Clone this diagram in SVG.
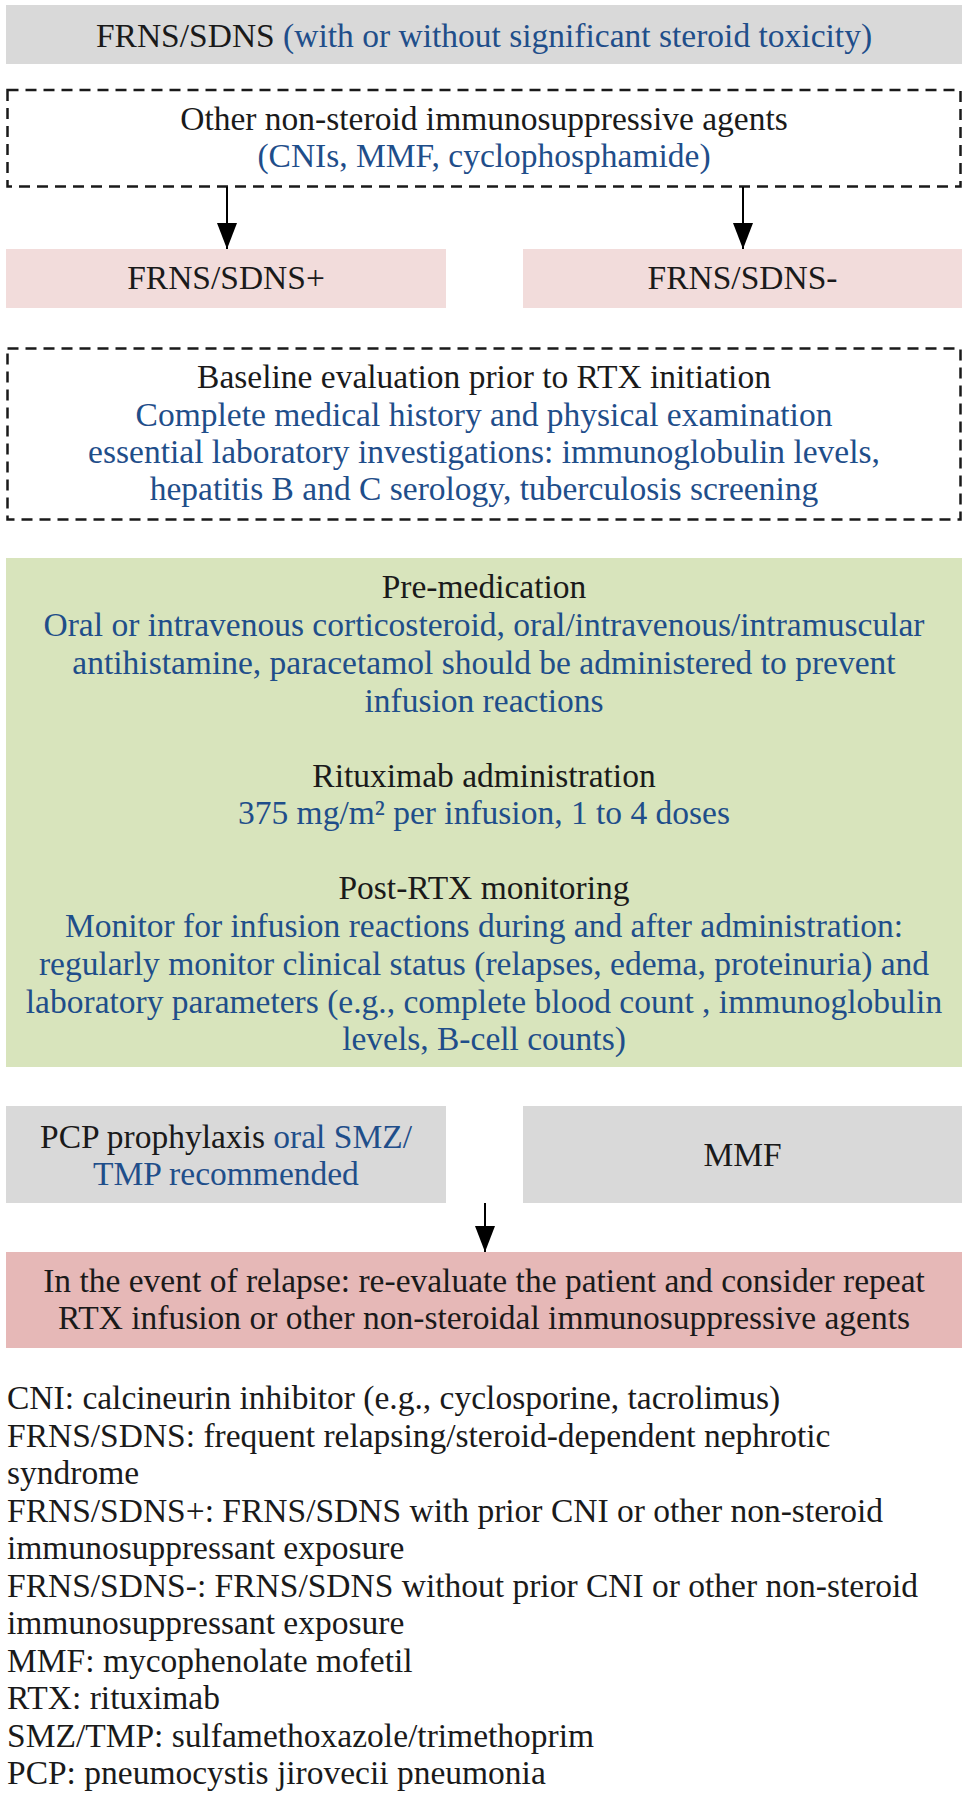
<svg xmlns="http://www.w3.org/2000/svg" width="968" height="1800" viewBox="0 0 968 1800">
<style>
text{font-family:"Liberation Serif","Times New Roman",serif;font-size:33.5px;fill:#1a1a1a}
.c{text-anchor:middle}
.b{fill:#1f4e8a}
.dash{fill:none;stroke:#1a1a1a;stroke-width:2.5;stroke-dasharray:11 7}
.gray{fill:#d9d9d9}
.pink{fill:#f2dcdb}
.green{fill:#d8e4bc}
.red{fill:#e6b8b7}
.conn{stroke:#000;stroke-width:2;fill:none;marker-end:url(#ah)}
</style>
<defs>
<marker id="ah" markerUnits="userSpaceOnUse" markerWidth="26" markerHeight="20" refX="26" refY="10" orient="auto">
<path d="M0,0 L26,10 L0,20 Z" fill="#000"/>
</marker>
</defs>
<rect width="968" height="1800" fill="#fff"/>

<g id="n_top">
<rect class="gray" x="6" y="5" width="956" height="59"/>
<text class="c" x="484" y="47">FRNS/SDNS <tspan class="b">(with or without significant steroid toxicity)</tspan></text>
</g>

<g id="n_other">
<rect class="dash" x="7.5" y="90" width="953" height="96.5"/>
<text class="c" x="484" y="130">Other non-steroid immunosuppressive agents</text>
<text class="c b" x="484" y="167">(CNIs, MMF, cyclophosphamide)</text>
</g>

<g id="n_plus">
<rect class="pink" x="6" y="249" width="440" height="59"/>
<text class="c" x="226" y="289">FRNS/SDNS+</text>
</g>

<g id="n_minus">
<rect class="pink" x="523" y="249" width="439" height="59"/>
<text class="c" x="742.5" y="289">FRNS/SDNS-</text>
</g>

<g id="n_baseline">
<rect class="dash" x="7.5" y="348.5" width="953" height="171"/>
<text class="c" x="484" y="388">Baseline evaluation prior to RTX initiation</text>
<text class="c b" x="484" y="426">Complete medical history and physical examination</text>
<text class="c b" x="484" y="463">essential laboratory investigations: immunoglobulin levels,</text>
<text class="c b" x="484" y="500">hepatitis B and C serology, tuberculosis screening</text>
</g>

<g id="n_treatment">
<rect class="green" x="6" y="558" width="956" height="509"/>
<text class="c" x="484" y="598">Pre-medication</text>
<text class="c b" x="484" y="636">Oral or intravenous corticosteroid, oral/intravenous/intramuscular</text>
<text class="c b" x="484" y="674">antihistamine, paracetamol should be administered to prevent</text>
<text class="c b" x="484" y="712">infusion reactions</text>
<text class="c" x="484" y="787">Rituximab administration</text>
<text class="c b" x="484" y="824">375 mg/m² per infusion, 1 to 4 doses</text>
<text class="c" x="484" y="899">Post-RTX monitoring</text>
<text class="c b" x="484" y="937">Monitor for infusion reactions during and after administration:</text>
<text class="c b" x="484" y="975">regularly monitor clinical status (relapses, edema, proteinuria) and</text>
<text class="c b" x="484" y="1013">laboratory parameters (e.g., complete blood count , immunoglobulin</text>
<text class="c b" x="484" y="1050">levels, B-cell counts)</text>
</g>

<g id="n_pcp">
<rect class="gray" x="6" y="1106" width="440" height="97"/>
<text class="c" x="226" y="1148">PCP prophylaxis <tspan class="b">oral SMZ/</tspan></text>
<text class="c b" x="226" y="1185">TMP recommended</text>
</g>

<g id="n_mmf">
<rect class="gray" x="523" y="1106" width="439" height="97"/>
<text class="c" x="742.5" y="1166">MMF</text>
</g>

<g id="n_relapse">
<rect class="red" x="6" y="1252" width="956" height="96"/>
<text class="c" x="484" y="1292">In the event of relapse: re-evaluate the patient and consider repeat</text>
<text class="c" x="484" y="1329">RTX infusion or other non-steroidal immunosuppressive agents</text>
</g>

<g id="connectors">
<line class="conn" x1="227" y1="187" x2="227" y2="249"/>
<line class="conn" x1="743" y1="187" x2="743" y2="249"/>
<line class="conn" x1="485" y1="1203" x2="485" y2="1252"/>
</g>

<g id="legend">
<text x="7" y="1409">CNI: calcineurin inhibitor (e.g., cyclosporine, tacrolimus)</text>
<text x="7" y="1446.5">FRNS/SDNS: frequent relapsing/steroid-dependent nephrotic</text>
<text x="7" y="1484">syndrome</text>
<text x="7" y="1521.5">FRNS/SDNS+: FRNS/SDNS with prior CNI or other non-steroid</text>
<text x="7" y="1559">immunosuppressant exposure</text>
<text x="7" y="1596.5">FRNS/SDNS-: FRNS/SDNS without prior CNI or other non-steroid</text>
<text x="7" y="1634">immunosuppressant exposure</text>
<text x="7" y="1671.5">MMF: mycophenolate mofetil</text>
<text x="7" y="1709">RTX: rituximab</text>
<text x="7" y="1746.5">SMZ/TMP: sulfamethoxazole/trimethoprim</text>
<text x="7" y="1784">PCP: pneumocystis jirovecii pneumonia</text>
</g>
</svg>
